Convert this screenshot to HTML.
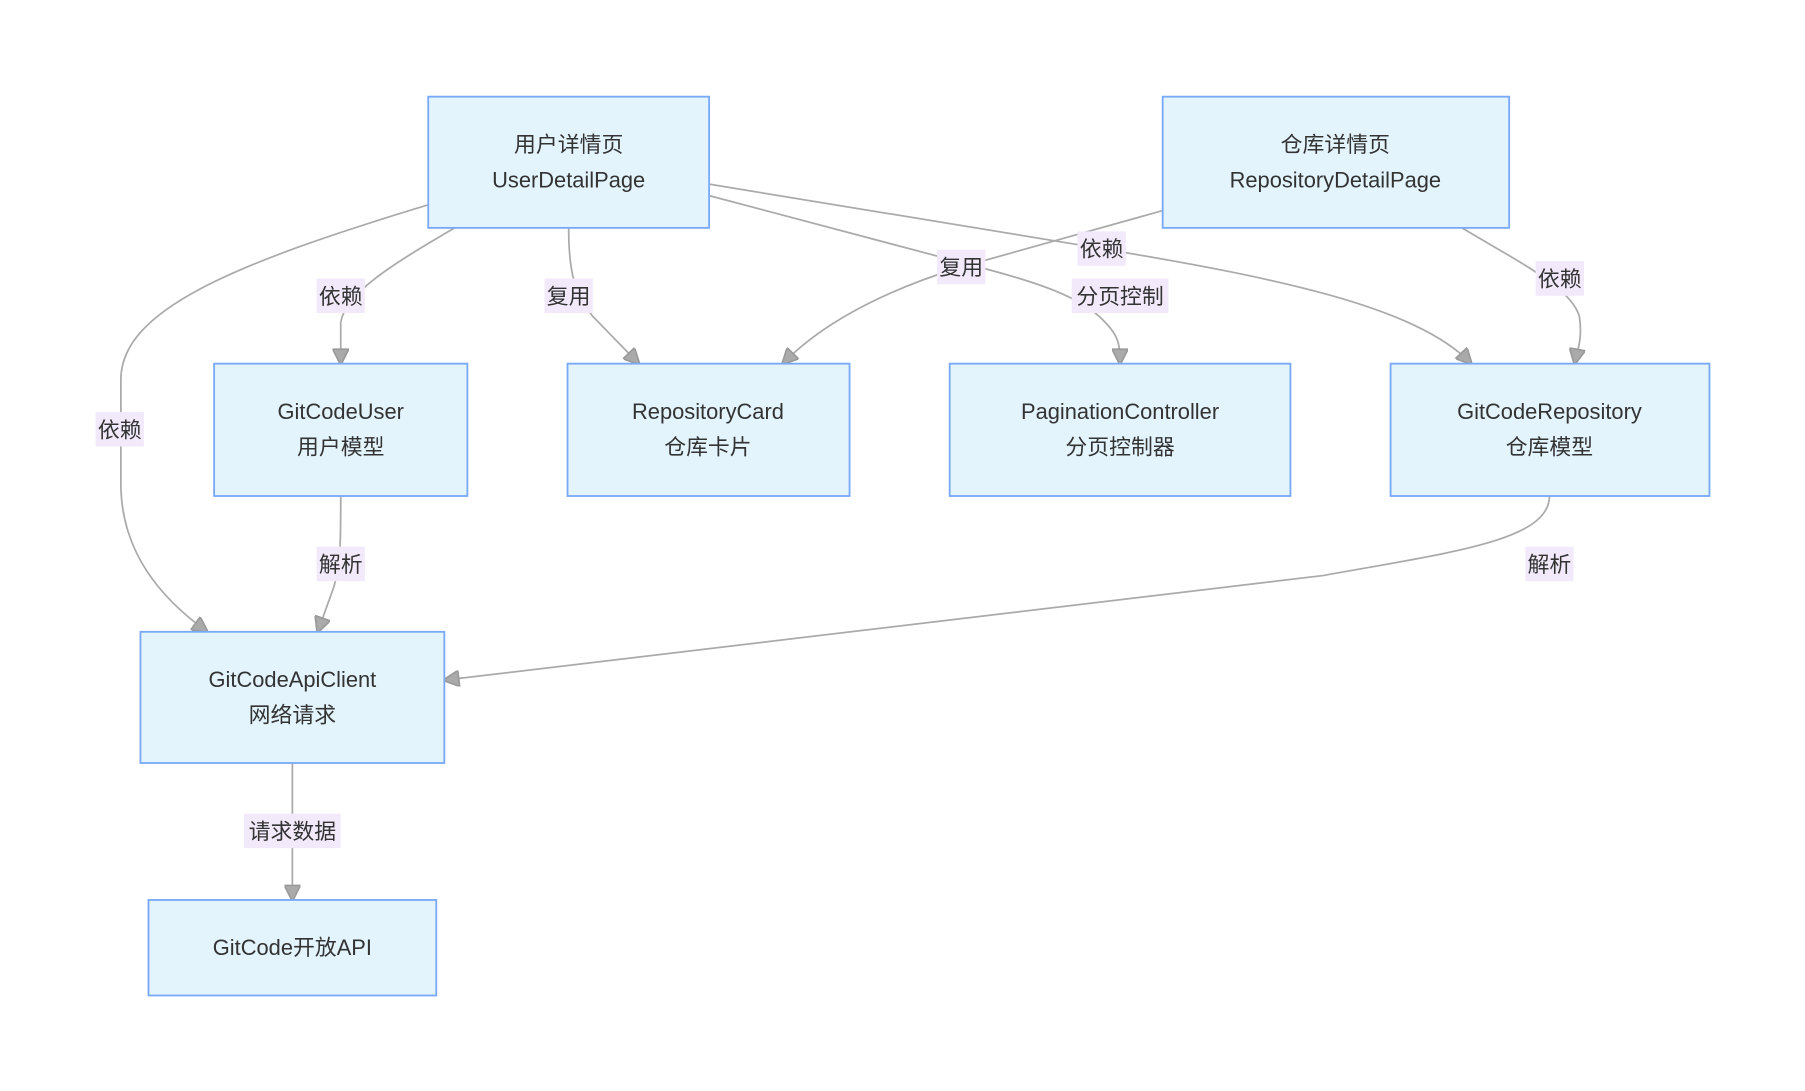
<!DOCTYPE html>
<html><head><meta charset="utf-8"><style>
html,body{margin:0;padding:0;background:#fff;}
svg{display:block;}
text{font-family:"Liberation Sans","Noto Sans CJK SC",sans-serif;fill:#333;font-size:19px;}
.box{fill:#e3f4fd;stroke:#7aaaf5;stroke-width:1.6;}
.e{fill:none;stroke:#aaa;stroke-width:1.5;}
.lb{fill:#f2eafb;}
</style></head><body>
<svg width="1805" height="1091" viewBox="0 0 1568 948" preserveAspectRatio="none" xmlns="http://www.w3.org/2000/svg">
<defs>
<marker id="b" viewBox="0 0 10 10" refX="9" refY="5" markerWidth="16" markerHeight="14" orient="auto" markerUnits="userSpaceOnUse"><path d="M0,0 L10,5 L0,10 z" fill="#aaa" stroke="#999"/></marker></defs>

<path class="e" marker-end="url(#b)" d="M372,178 C200,230 105,270 105,330 L105,420 C105,480 140,520 180,549"/>
<path class="e" marker-end="url(#b)" d="M395,198 C340,230 300,255 296,280 L296,316"/>
<path class="e" marker-end="url(#b)" d="M494,198 C494,240 500,255 515,275 L555,316"/>
<path class="e" marker-end="url(#b)" d="M616,170 L850,232 C900,245 940,258 960,280 C972,292 973,300 973,316"/>
<path class="e" marker-end="url(#b)" d="M616,160 L957,216 C1100,240 1230,265 1278,316"/>
<path class="e" marker-end="url(#b)" d="M1010,183 L835,232 C760,255 710,285 680,316"/>
<path class="e" marker-end="url(#b)" d="M1270,198 C1320,228 1365,250 1372,275 C1375,295 1370,305 1368,316"/>
<path class="e" marker-end="url(#b)" d="M296,431 C296,470 296,490 290,510 L276,549"/>
<path class="e" marker-end="url(#b)" d="M1346,431 C1346,470 1260,480 1150,500 L386,591"/>
<path class="e" marker-end="url(#b)" d="M254,663 L254,782"/>

<rect class="lb" x="83" y="358" width="42" height="30"/><text x="104" y="380" text-anchor="middle">依赖</text>
<rect class="lb" x="275" y="242" width="42" height="30"/><text x="296" y="264" text-anchor="middle">依赖</text>
<rect class="lb" x="473" y="242" width="42" height="30"/><text x="494" y="264" text-anchor="middle">复用</text>
<rect class="lb" x="931" y="242" width="84" height="30"/><text x="973" y="264" text-anchor="middle">分页控制</text>
<rect class="lb" x="936" y="201" width="42" height="30"/><text x="957" y="223" text-anchor="middle">依赖</text>
<rect class="lb" x="814" y="217" width="42" height="30"/><text x="835" y="239" text-anchor="middle">复用</text>
<rect class="lb" x="1334" y="227" width="42" height="30"/><text x="1355" y="249" text-anchor="middle">依赖</text>
<rect class="lb" x="275" y="475" width="42" height="30"/><text x="296" y="497" text-anchor="middle">解析</text>
<rect class="lb" x="1325" y="475" width="42" height="30"/><text x="1346" y="497" text-anchor="middle">解析</text>
<rect class="lb" x="212" y="707" width="84" height="30"/><text x="254" y="729" text-anchor="middle">请求数据</text>

<rect class="box" x="372" y="84" width="244" height="114"/>
<text x="494" y="132" text-anchor="middle">用户详情页</text><text x="494" y="163" text-anchor="middle">UserDetailPage</text>
<rect class="box" x="1010" y="84" width="301" height="114"/>
<text x="1160" y="132" text-anchor="middle">仓库详情页</text><text x="1160" y="163" text-anchor="middle">RepositoryDetailPage</text>
<rect class="box" x="186" y="316" width="220" height="115"/>
<text x="296" y="364" text-anchor="middle">GitCodeUser</text><text x="296" y="395" text-anchor="middle">用户模型</text>
<rect class="box" x="493" y="316" width="245" height="115"/>
<text x="615" y="364" text-anchor="middle">RepositoryCard</text><text x="615" y="395" text-anchor="middle">仓库卡片</text>
<rect class="box" x="825" y="316" width="296" height="115"/>
<text x="973" y="364" text-anchor="middle">PaginationController</text><text x="973" y="395" text-anchor="middle">分页控制器</text>
<rect class="box" x="1208" y="316" width="277" height="115"/>
<text x="1346" y="364" text-anchor="middle">GitCodeRepository</text><text x="1346" y="395" text-anchor="middle">仓库模型</text>
<rect class="box" x="122" y="549" width="264" height="114"/>
<text x="254" y="597" text-anchor="middle">GitCodeApiClient</text><text x="254" y="628" text-anchor="middle">网络请求</text>
<rect class="box" x="129" y="782" width="250" height="83"/>
<text x="254" y="830" text-anchor="middle">GitCode开放API</text>
</svg>
</body></html>
